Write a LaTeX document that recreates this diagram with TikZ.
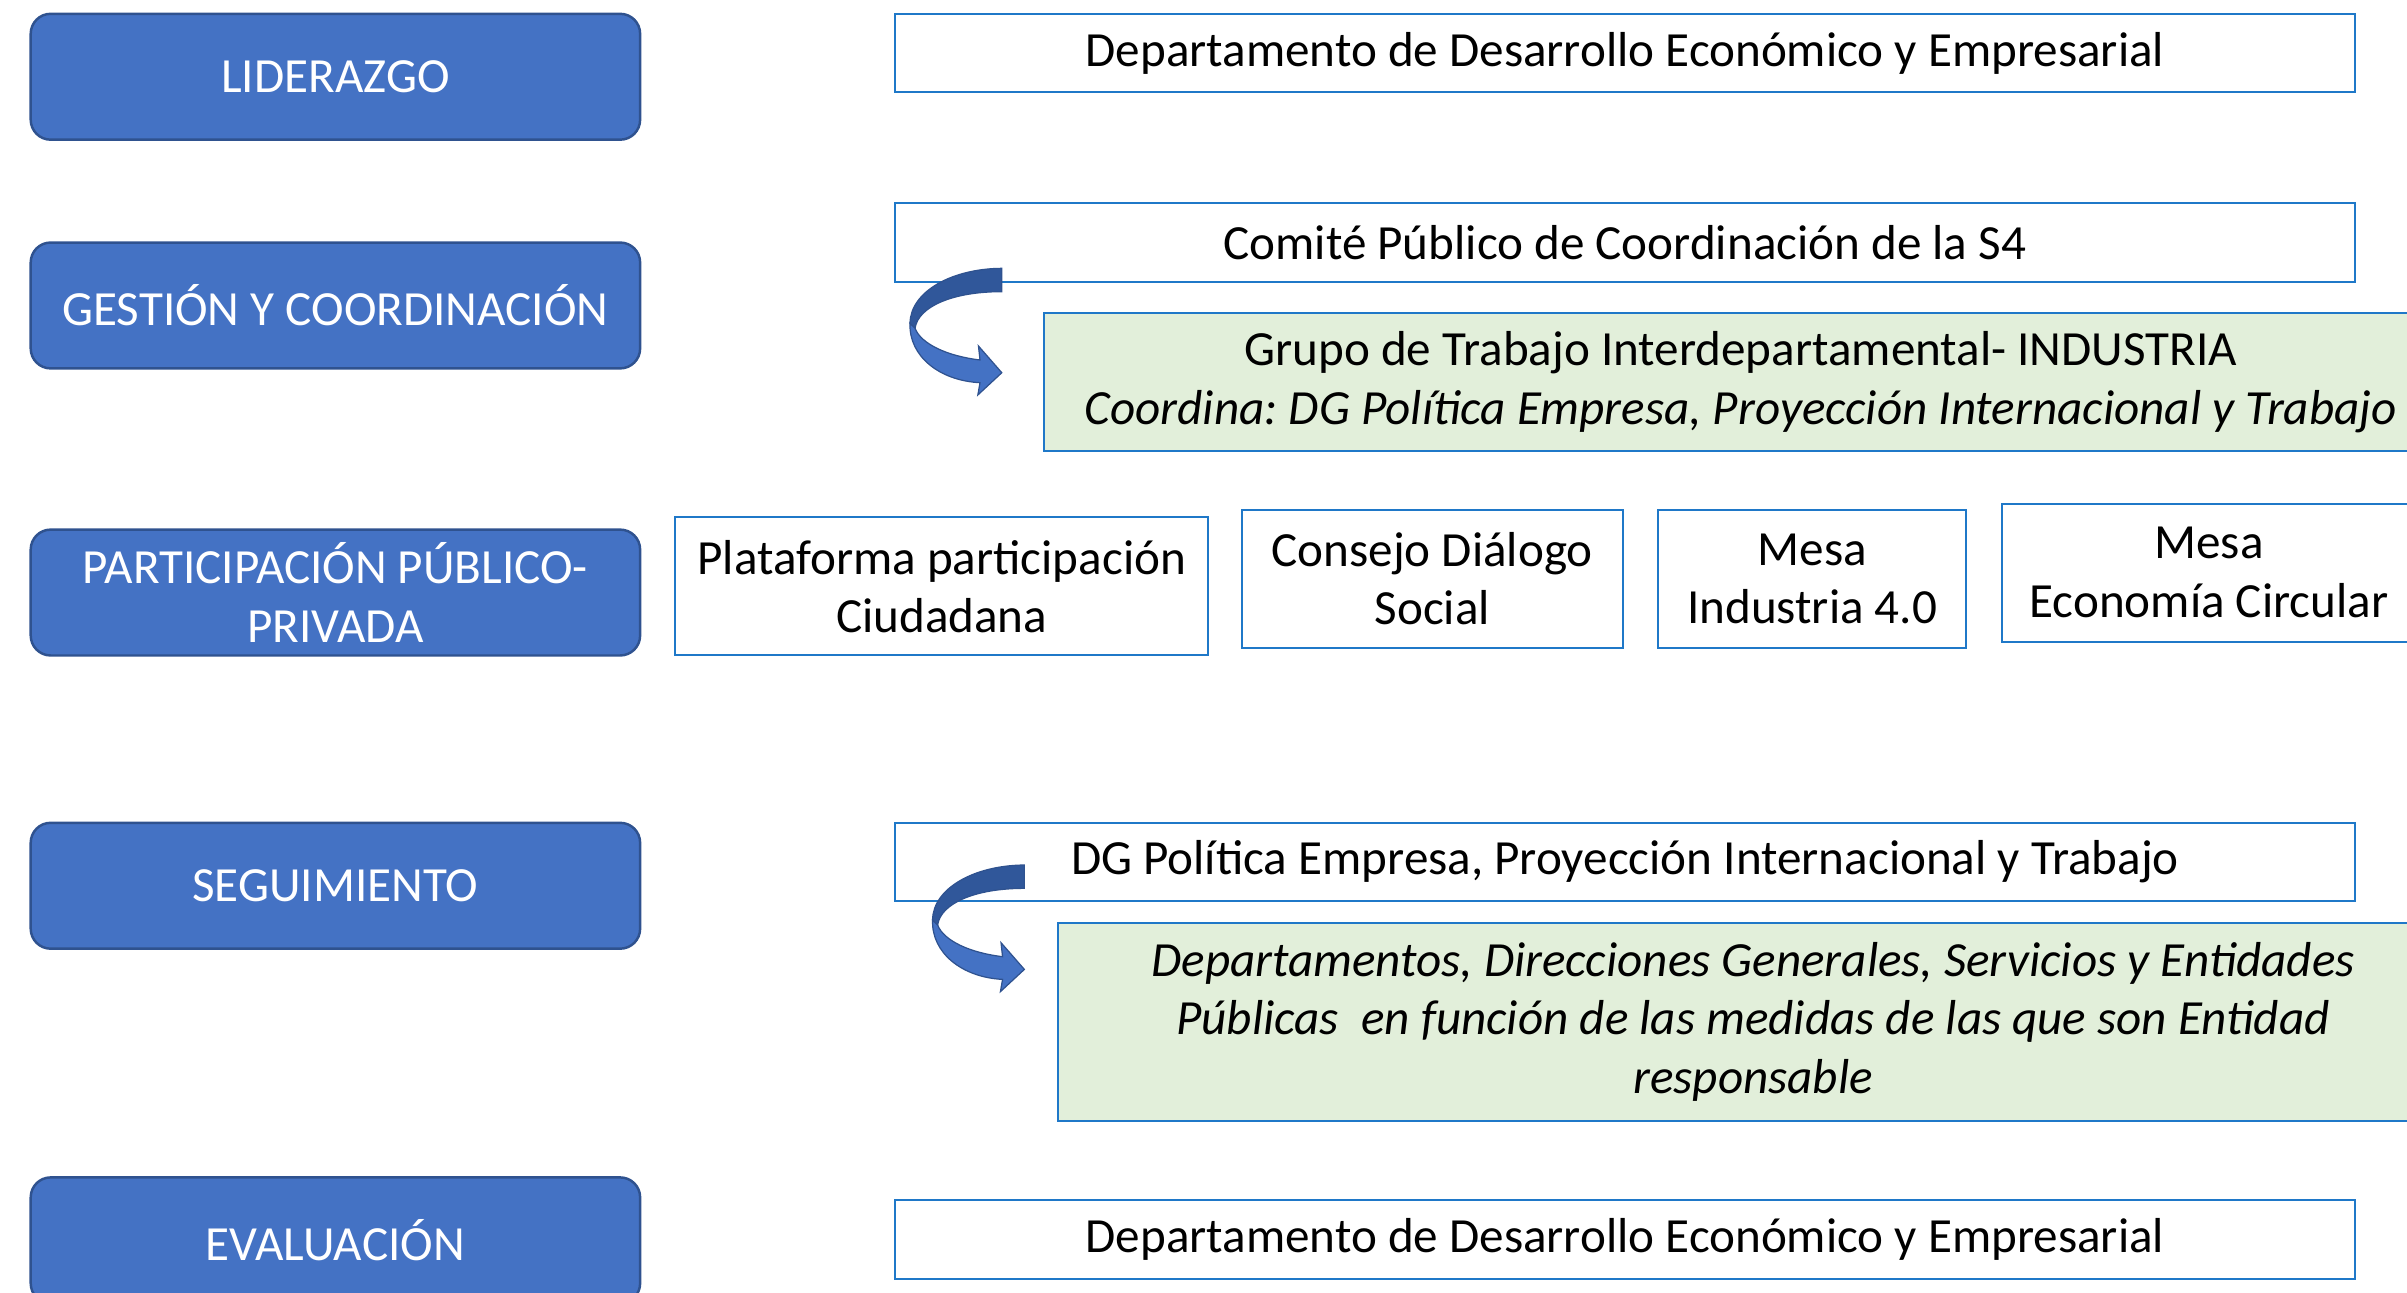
\documentclass[tikz,border=0pt]{standalone}
\usepackage{fontspec}
\setmainfont{Carlito}
\frenchspacing
\definecolor{bluefill}{HTML}{4472C4}
\definecolor{blueborder}{HTML}{2F528F}
\definecolor{boxline}{HTML}{1F78C8}
\definecolor{greenfill}{HTML}{E2EFDA}
\definecolor{arrowdark}{HTML}{30579A}
\definecolor{arrowlight}{HTML}{4472C4}
\begin{document}
\begin{tikzpicture}[x=1pt,y=1pt,
  every node/.style={font=\fontsize{32}{38}\selectfont, inner sep=0pt, align=center},
  bluebox/.style={draw=blueborder, line width=1.6pt, fill=bluefill, rounded corners=13pt, text=white, minimum width=397pt, minimum height=82pt},
  whitebox/.style={draw=boxline, line width=1.3pt, fill=white, text=black},
  greenbox/.style={draw=boxline, line width=1.3pt, fill=greenfill, text=black},
  ribbon/.style={draw=blueborder, line width=0.8pt}]
\useasboundingbox (0,0) rectangle (1568,-842);
\clip (0,0) rectangle (1568,-842);
% left category boxes
\node[bluebox] (lid) at (218.5,-50) {LIDERAZGO};
\node[bluebox] (ges) at (218.5,-199) {GESTIÓN Y COORDINACIÓN};
\node[bluebox] (par) at (218.5,-386) {PARTICIPACIÓN PÚBLICO-\\PRIVADA};
\node[bluebox] (seg) at (218.5,-577) {SEGUIMIENTO};
\node[bluebox] (eva) at (218.5,-808) {EVALUACIÓN};
% right boxes
\node[whitebox, minimum width=951pt, minimum height=51pt] (dep1) at (1058.5,-34.5) {Departamento de Desarrollo Económico y Empresarial};
\node[whitebox, minimum width=951pt, minimum height=52pt] (com) at (1058.5,-158) {Comité Público de Coordinación de la S4};
\node[greenbox, minimum width=908pt, minimum height=90pt] (gru) at (1134,-249) {Grupo de Trabajo Interdepartamental- INDUSTRIA\\\textit{Coordina: DG Política Empresa, Proyección Internacional y Trabajo}};
\node[whitebox, minimum width=347pt, minimum height=90pt] (pla) at (613.5,-382) {Plataforma participación\\Ciudadana};
\node[whitebox, minimum width=248pt, minimum height=90pt] (con) at (933,-377) {Consejo Diálogo\\Social};
\node[whitebox, minimum width=201pt, minimum height=90pt] (mi) at (1180.5,-377) {Mesa\\Industria 4.0};
\node[whitebox, minimum width=270pt, minimum height=90pt] (mec) at (1439,-373) {Mesa\\Economía Circular};
\node[whitebox, minimum width=951pt, minimum height=51pt] (dg) at (1058.5,-561.5) {DG Política Empresa, Proyección Internacional y Trabajo};
\node[greenbox, minimum width=906pt, minimum height=129pt] (dep2) at (1142,-665.5) {\itshape Departamentos, Direcciones Generales, Servicios y Entidades\\\itshape Públicas\ \ en función de las medidas de las que son Entidad\\\itshape responsable};
\node[whitebox, minimum width=951pt, minimum height=51pt] (dep3) at (1058.5,-807.5) {Departamento de Desarrollo Económico y Empresarial};
% curved arrows
\foreach \dx/\dy in {0/0, 14.7/-388.7} {
  \begin{scope}[shift={(\dx,\dy)}]
    \path[ribbon, fill=arrowdark] (652.6,-174.8) .. controls (620,-175) and (593,-190) .. (592.8,-210.7)
      -- (596.1,-213.9) .. controls (598,-200) and (620,-190) .. (652.6,-190) -- cycle;
    \path[ribbon, fill=arrowlight] (592.8,-210.7) .. controls (592,-232) and (612,-248) .. (638.4,-249.3)
      -- (637,-257.3) -- (652.6,-242.8) -- (637.4,-225.4) -- (638.4,-234.5)
      .. controls (617,-232) and (600,-224) .. (596.1,-213.9) -- cycle;
  \end{scope}
}
\end{tikzpicture}
\end{document}
